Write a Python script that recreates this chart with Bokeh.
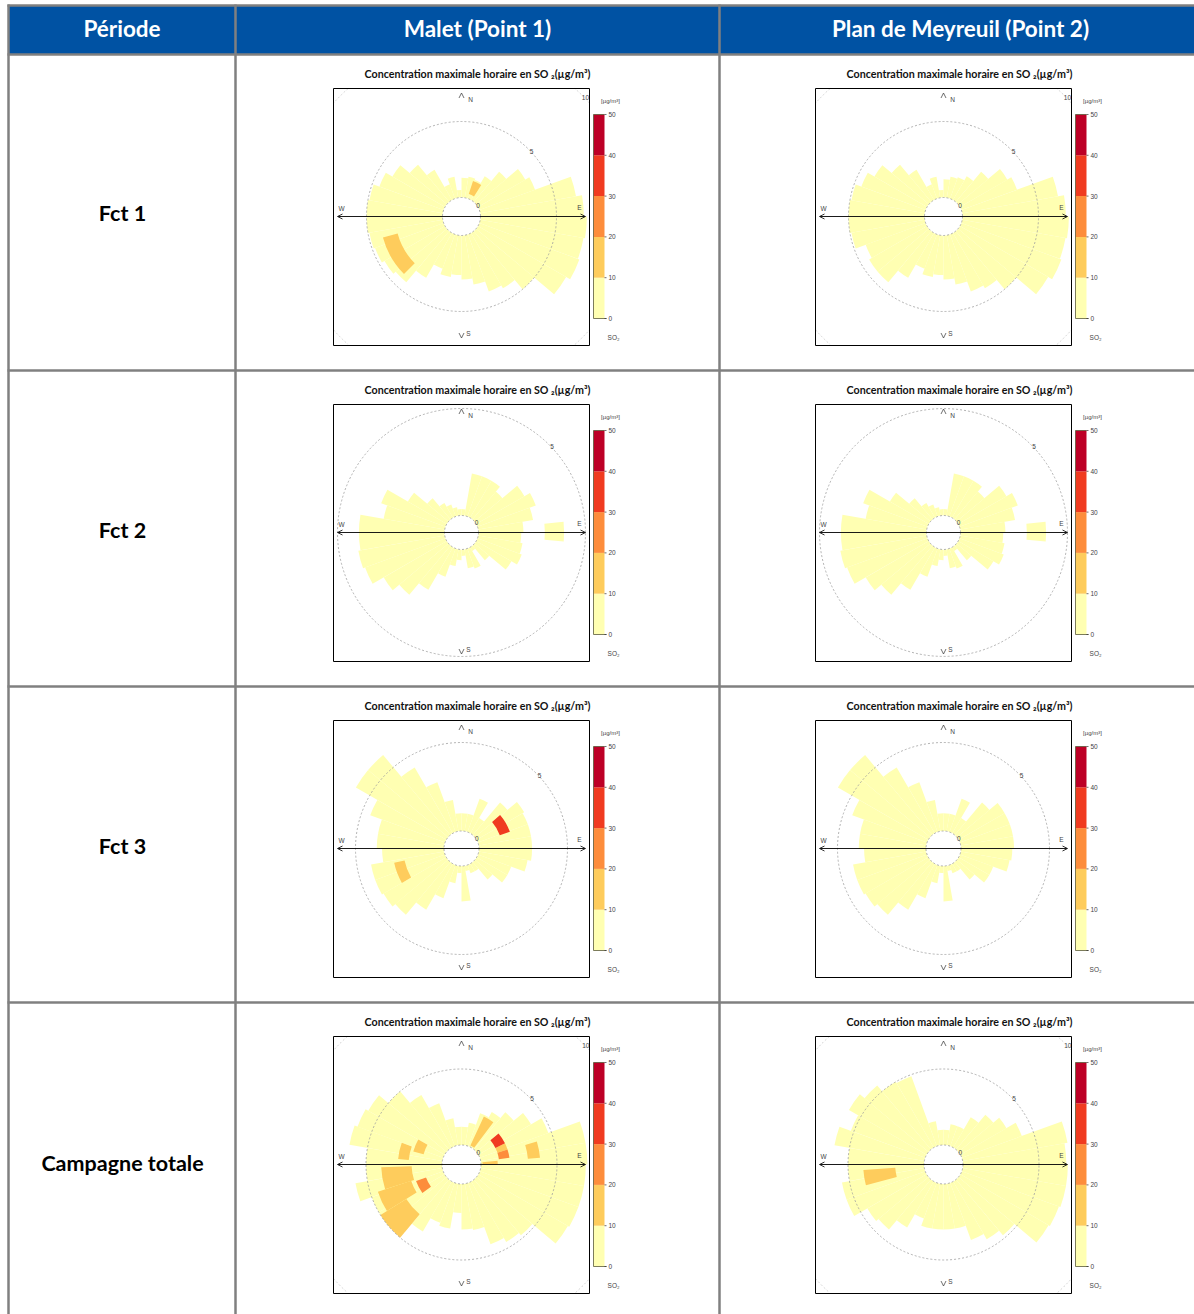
import numpy as np
from bokeh.plotting import figure
from bokeh.models import Range1d, Arrow, OpenHead
from bokeh.embed import file_html
from bokeh.resources import INLINE
from bokeh.core.properties import value

W, H = 1194, 1314

# ---------------- data ----------------
header_first = "Période"
sites = ["Malet (Point 1)", "Plan de Meyreuil (Point 2)"]
periods = ["Fct 1", "Fct 2", "Fct 3", "Campagne totale"]
panel_title = "Concentration maximale horaire en SO ₂(µg/m³)"
colorbar_unit = "[µg/m³]"
colorbar_name = "SO₂"
class_edges = [0, 10, 20, 30, 40, 50]
class_colors = ["#FFFFB2", "#FECC5C", "#FD8D3C", "#F03B20", "#BD0026"]
sector_width = 10  # degrees, sectors start at North, clockwise

# outer wind-speed extent (m/s) of the SO2 cells per 10-degree sector
malet_fct1_ext = [1.3, 1.4, 1.3, 1.8, 2.6, 3.6, 3.9, 6.4, 6.8, 7.0,
                  6.9, 7.0, 6.7, 5.0, 4.2, 4.0, 3.3, 2.9, 2.6, 2.8,
                  2.4, 3.4, 4.4, 4.6, 4.8, 4.9, 5.0, 5.0, 4.9, 4.5,
                  4.0, 3.2, 2.3, 1.0, 1.4, 0.5]
malet_fct2_ext = [0.3, 2.0, 2.0, 2.0, 1.7, 2.6, 2.9, 2.6, 2.1, 2.0,
                  2.1, 2.2, 1.9, 0.9, 0.2, 1.0, 0.9, 0.3, 0.5, 0.8,
                  1.4, 2.3, 3.0, 3.4, 4.0, 4.1, 4.0, 4.0, 2.9, 3.2,
                  2.1, 1.3, 0.8, 0.6, 0.4, 0.3]
malet_fct3_ext = [1.0, 1.0, 2.0, 1.0, 2.4, 3.1, 3.0, 3.0, 3.0, 3.0,
                  2.8, 2.0, 2.0, 1.3, 0.5, 0.5, 0.3, 2.0, 0.4, 1.0,
                  2.0, 3.0, 3.9, 4.1, 4.2, 4.2, 3.5, 3.8, 3.8, 4.5,
                  5.9, 5.9, 4.3, 3.0, 1.8, 1.0]
malet_total_ext = [1.2, 1.5, 2.3, 2.7, 3.2, 4.0, 4.8, 7.0, 7.0, 6.9,
                   6.9, 6.9, 6.8, 4.8, 4.6, 4.3, 3.1, 3.0, 1.9, 3.0,
                   2.8, 3.8, 4.5, 5.0, 5.0, 5.8, 5.0, 5.0, 6.2, 6.0,
                   5.8, 5.0, 4.0, 3.0, 1.8, 1.2]
plan_fct1_ext = [1.2, 1.4, 1.5, 1.8, 2.6, 3.6, 3.9, 6.4, 6.8, 7.0,
                 6.9, 7.0, 6.7, 5.0, 4.2, 4.0, 3.3, 2.9, 2.6, 2.8,
                 2.4, 3.4, 4.4, 4.4, 4.2, 4.9, 5.0, 5.0, 4.9, 4.5,
                 4.0, 3.2, 2.3, 1.0, 1.4, 0.5]
plan_fct2_ext = [0.3, 2.0, 2.0, 2.0, 1.7, 2.6, 2.9, 2.6, 2.1, 2.0,
                 2.1, 2.2, 1.9, 0.9, 0.2, 1.0, 0.9, 0.3, 0.5, 0.8,
                 1.4, 2.3, 3.0, 3.4, 4.0, 4.1, 4.0, 4.0, 2.9, 3.2,
                 2.1, 1.3, 0.8, 0.6, 0.4, 0.3]
plan_fct3_ext = [1.0, 1.0, 2.0, 1.0, 2.4, 3.0, 3.0, 3.0, 3.0, 2.9,
                 2.8, 2.0, 2.0, 1.3, 0.5, 0.5, 0.3, 2.0, 0.4, 1.0,
                 2.0, 3.0, 3.9, 4.1, 4.2, 4.2, 3.5, 3.8, 3.8, 4.5,
                 5.9, 5.9, 4.3, 3.0, 1.8, 1.0]
plan_total_ext = [1.0, 1.4, 1.4, 2.3, 3.0, 3.5, 4.2, 7.0, 6.8, 6.9,
                  6.9, 6.8, 6.7, 4.8, 4.4, 4.0, 3.0, 3.0, 3.0, 3.0,
                  2.5, 3.5, 4.3, 4.5, 5.5, 5.5, 5.0, 5.0, 6.0, 5.2,
                  5.9, 5.5, 5.0, 4.9, 1.6, 1.0]

# individual cells: (bearing from, bearing to, ws from, ws to, SO2 max µg/m³)
malet_fct1_cells = [(18, 32, 0.3, 1.2, 15), (225, 255, 3.1, 4.1, 15)]
malet_fct2_cells = [(84, 95, 3.1, 4.0, 5)]
malet_fct3_cells = [(49, 71, 1.3, 1.9, 35), (240, 258, 2.3, 2.9, 15)]
malet_total_cells = [(25, 37, 0.1, 2.2, 15), (50, 64, 1.2, 1.9, 35),
                     (64, 72, 1.2, 1.9, 15), (72, 82, 1.2, 1.9, 25),
                     (84, 90, 0.1, 1.1, 15), (73, 85, 3.1, 3.9, 15),
                     (275, 290, 2.2, 2.9, 15), (285, 300, 1.3, 2.0, 15),
                     (238, 252, 2.2, 4.5, 15), (220, 238, 3.0, 5.0, 15),
                     (252, 268, 2.0, 4.0, 15), (234, 250, 1.2, 1.9, 25)]
plan_fct1_cells = []
plan_fct2_cells = [(84, 95, 3.1, 4.0, 5)]
plan_fct3_cells = []
plan_total_cells = [(255, 266, 1.9, 4.0, 15)]

panels_ext = [[malet_fct1_ext, plan_fct1_ext], [malet_fct2_ext, plan_fct2_ext],
              [malet_fct3_ext, plan_fct3_ext], [malet_total_ext, plan_total_ext]]
panels_cells = [[malet_fct1_cells, plan_fct1_cells], [malet_fct2_cells, plan_fct2_cells],
                [malet_fct3_cells, plan_fct3_cells], [malet_total_cells, plan_total_cells]]
ring_labels = [[0, 5, 10], [0, 5], [0, 5], [0, 5, 10]]
base_conc = 5  # background cells: 0-10 µg/m³ class

# ---------------- layout ----------------
col_lines = [8, 235, 719]
row_lines = [5, 54, 370, 686, 1002]
panel_cx = [461, 943]
panel_cy = [216, 532, 848, 1164]
row_label_y = [212, 529, 845, 1162]
scales = [(19, 15.2), (17, 21.4), (17.5, 17.7), (19.5, 15.2)]  # inner radius px, px per m/s
HW = 128


def Y(y):
    return H - y


def cls_of(v):
    for j in range(len(class_colors)):
        if v < class_edges[j + 1]:
            return j
    return len(class_colors) - 1


p = figure(width=W, height=H, x_range=Range1d(0, W), y_range=Range1d(0, H),
           x_axis_type=None, y_axis_type=None, toolbar_location=None,
           output_backend="svg", min_border=0)
p.grid.visible = False
p.outline_line_color = None
p.background_fill_color = "white"

# header band
p.quad(left=[col_lines[0]], right=[W], top=[Y(row_lines[0])], bottom=[Y(row_lines[1])],
       fill_color="#0052A3", line_color=None)

wedges = {j: dict(x=[], y=[], ir=[], orr=[], sa=[], ea=[]) for j in range(len(class_colors))}


def add_wedge(j, cx, cy, r0, k, b0, b1, lo, hi):
    d = wedges[j]
    d["x"].append(cx)
    d["y"].append(Y(cy))
    d["ir"].append(r0 + k * lo)
    d["orr"].append(r0 + k * hi)
    d["sa"].append(np.radians(90 - b1))
    d["ea"].append(np.radians(90 - b0))


for ri in range(4):
    r0, k = scales[ri]
    for ci in range(2):
        cx, cy = panel_cx[ci], panel_cy[ri]
        for i, e in enumerate(panels_ext[ri][ci]):
            if e > 0:
                add_wedge(cls_of(base_conc), cx, cy, r0, k, i * sector_width,
                          (i + 1) * sector_width, 0, e)
        for (b0, b1, lo, hi, v) in panels_cells[ri][ci]:
            add_wedge(cls_of(v), cx, cy, r0, k, b0, b1, lo, hi)

for j in range(len(class_colors)):
    d = wedges[j]
    if d["x"]:
        p.annular_wedge(x=d["x"], y=d["y"], inner_radius=d["ir"], outer_radius=d["orr"],
                        start_angle=d["sa"], end_angle=d["ea"],
                        fill_color=class_colors[j], line_color=None)

small_font = value("Liberation Sans")
for ri in range(4):
    r0, k = scales[ri]
    for ci in range(2):
        cx, cy = panel_cx[ci], panel_cy[ri]
        # title
        p.text(x=[cx + 16], y=[Y(cy - 143)], text=[panel_title], text_font=value("Lato"),
               text_font_style="bold", text_font_size="10.7px", text_align="center",
               text_baseline="middle", text_color="#111111")
        # inner hole
        p.circle(x=[cx], y=[Y(cy)], radius=r0, fill_color="white", line_color="#9A9A9A",
                 line_dash="2 2", line_width=0.8)
        # rings
        for lab in ring_labels[ri][1:]:
            r = r0 + k * lab
            if r <= HW:
                p.arc(x=[cx], y=[Y(cy)], radius=r, start_angle=0, end_angle=2 * np.pi,
                      line_color="#A0A0A0", line_dash="2 2", line_width=0.8)
            else:
                phi = np.arccos(HW / r)
                for q in range(4):
                    p.arc(x=[cx], y=[Y(cy)], radius=r,
                          start_angle=np.pi / 2 * q + phi, end_angle=np.pi / 2 * (q + 1) - phi,
                          line_color="#C8C8C8", line_dash="2 2", line_width=0.8)
        # ring labels at 45 degrees
        for lab in ring_labels[ri]:
            r = r0 + k * lab
            p.text(x=[cx + r * 0.7071 + 3], y=[Y(cy - r * 0.7071 + 2)], text=[str(lab)],
                   text_font=small_font, text_font_size="6.5px", text_align="center",
                   text_baseline="middle", text_color="#444444")
        # box
        p.rect(x=[cx], y=[Y(cy + 0.5)], width=2 * HW, height=2 * HW + 1, fill_color=None,
               line_color="black", line_width=1)
        # W-E axis
        p.add_layout(Arrow(x_start=cx - 124, y_start=Y(cy), x_end=cx + 124, y_end=Y(cy),
                           start=OpenHead(size=5, line_width=0.8, line_color="black"),
                           end=OpenHead(size=5, line_width=0.8, line_color="black"),
                           line_width=0.9, line_color="black"))
        # N and S chevrons
        p.add_layout(Arrow(x_start=cx, y_start=Y(cy - 122), x_end=cx, y_end=Y(cy - 123.5),
                           end=OpenHead(size=5, line_width=0.7, line_color="#333333"),
                           line_alpha=0))
        p.add_layout(Arrow(x_start=cx, y_start=Y(cy + 120), x_end=cx, y_end=Y(cy + 121.5),
                           end=OpenHead(size=5, line_width=0.7, line_color="#333333"),
                           line_alpha=0))
        p.text(x=[cx + 9, cx + 7, cx - 120, cx + 118], y=[Y(cy - 117), Y(cy + 117), Y(cy - 8), Y(cy - 9)],
               text=["N", "S", "W", "E"], text_font=small_font, text_font_size="6.5px",
               text_align="center", text_baseline="middle", text_color="#444444")
        # colour bar
        bx0, bx1 = cx + 132, cx + 143
        ybot = cy + 102
        ppu = 4.08
        p.quad(left=[bx0] * 5, right=[bx1] * 5,
               bottom=[Y(ybot - class_edges[j] * ppu) for j in range(5)],
               top=[Y(ybot - class_edges[j + 1] * ppu) for j in range(5)],
               fill_color=class_colors, line_color=None)
        p.segment(x0=[bx0, bx0, bx0], y0=[Y(ybot), Y(ybot - 50 * ppu), Y(ybot)],
                  x1=[bx0, bx1, bx1 + 2], y1=[Y(ybot - 50 * ppu), Y(ybot - 50 * ppu), Y(ybot)],
                  line_color="#5A5A3A", line_width=0.8)
        p.segment(x0=[bx1] * 6, y0=[Y(ybot - v * ppu) for v in class_edges],
                  x1=[bx1 + 2] * 6, y1=[Y(ybot - v * ppu) for v in class_edges],
                  line_color="#333333", line_width=0.7)
        p.text(x=[bx1 + 4] * 6, y=[Y(ybot - v * ppu) for v in class_edges],
               text=[str(v) for v in class_edges], text_font=small_font, text_font_size="6.5px",
               text_align="left", text_baseline="middle", text_color="#444444")
        p.text(x=[cx + 149], y=[Y(cy - 116)], text=[colorbar_unit], text_font=small_font,
               text_font_size="6px", text_align="center", text_baseline="middle",
               text_color="#444444")
        p.text(x=[cx + 152], y=[Y(cy + 121)], text=[colorbar_name], text_font=small_font,
               text_font_size="6.5px", text_align="center", text_baseline="middle",
               text_color="#444444")

# table grid lines
p.segment(x0=[7] * len(row_lines), y0=[Y(v) for v in row_lines],
          x1=[W] * len(row_lines), y1=[Y(v) for v in row_lines],
          line_color="#808080", line_width=2.5)
p.segment(x0=col_lines, y0=[Y(4)] * 3, x1=col_lines, y1=[0] * 3,
          line_color="#808080", line_width=2.5)

# header texts
p.text(x=[121.5, 477, 960], y=[Y(28)] * 3, text=[header_first] + sites,
       text_font=value("Lato"), text_font_style="bold", text_font_size="22.5px",
       text_align="center", text_baseline="middle", text_color="white")
# period labels
p.text(x=[122] * 4, y=[Y(v) for v in row_label_y], text=periods,
       text_font=value("Lato"), text_font_style="bold", text_font_size="21.5px",
       text_align="center", text_baseline="middle", text_color="black")

open("out.html", "w").write(file_html(p, INLINE))
